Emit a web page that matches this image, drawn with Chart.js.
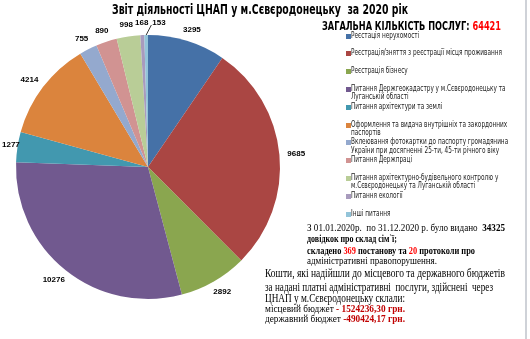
<!DOCTYPE html>
<html>
<head>
<meta charset="utf-8">
<script src="https://cdn.jsdelivr.net/npm/chart.js@4.4.0/dist/chart.umd.min.js"></script>
<style>
    body { margin: 0; background: #fff; }
    #wrap { position: relative; width: 530px; height: 339px; overflow: hidden; background: #fff; }
    #myChart { position: absolute; left: 0; top: 0; }
    .t { position: absolute; white-space: nowrap; transform-origin: 0 50%; color: #000; }
    .sans { font-family: "Liberation Sans Narrow", "DejaVu Sans Condensed", "Liberation Sans", Arial, sans-serif; }
    .serif { font-family: "Liberation Serif", "Times New Roman", serif; }
    .red { color: #ff0000; }
    .dred { color: #c00000; font-weight: bold; }
    #legend { position: absolute; left: 346px; top: 0; }
    .li { position: absolute; left: 0; }
    .sq { position: absolute; left: 0; width: 5px; height: 5px; }
    .lt { position: absolute; left: 5px; top: 0; font-family: "Liberation Sans Narrow", "DejaVu Sans Condensed", "Liberation Sans", Arial, sans-serif; font-size: 8px; line-height: 8.6px; color: #222; transform-origin: 0 0; white-space: normal; }
    #edge { position: absolute; left: 525px; top: 0; width: 2px; height: 339px; background: #cfd2d8; }
</style>
</head>
<body>
<div id="wrap">
    <canvas id="myChart" width="530" height="339"></canvas>

    <div class="t sans" data-w="296" style="left:112px; top:1px; font-size:14px; line-height:16px; font-weight:bold;">Звіт діяльності ЦНАП у м.Сєвєродонецьку&nbsp; за 2020 рік</div>
    <div class="t sans" data-w="179" style="left:322px; top:19px; font-size:12px; line-height:14px; font-weight:bold;">ЗАГАЛЬНА КІЛЬКІСТЬ ПОСЛУГ: <span class="red">64421</span></div>

    <div id="legend"></div>

    <div class="t serif" data-w="198" style="left:307px; top:222px; font-size:10.5px; line-height:12px;">З 01.01.2020р.&nbsp; по 31.12.2020 р. було видано&nbsp; <b>34325</b></div>
    <div class="t serif" data-w="90" style="left:307px; top:233px; font-size:10.5px; line-height:12px; font-weight:bold;">довідкок про склад сім`ї;</div>
    <div class="t serif" data-w="168" style="left:307px; top:245px; font-size:10.5px; line-height:12px; font-weight:bold;">складено <span class="red">369</span> постанову та <span class="red">20</span> протоколи про</div>
    <div class="t serif" data-w="130" style="left:307px; top:255px; font-size:10.5px; line-height:12px;">адміністративні правопорушення.</div>

    <div class="t serif" data-w="240" style="left:265px; top:266px; font-size:12.5px; line-height:14px;">Кошти, які надійшли до місцевого та державного бюджетів</div>
    <div class="t serif" data-w="228" style="left:265px; top:280px; font-size:12.5px; line-height:14px;">за надані платні адміністративні&nbsp; послуги, здійснені&nbsp; через</div>
    <div class="t serif" data-w="140" style="left:265px; top:291px; font-size:12.5px; line-height:14px;">ЦНАП у м.Сєвєродонецьку склали:</div>
    <div class="t serif" data-w="140" style="left:265px; top:303px; font-size:10.5px; line-height:12px;">місцевий бюджет <span class="dred">- 1524236,30 грн.</span></div>
    <div class="t serif" data-w="140" style="left:265px; top:313px; font-size:10.5px; line-height:12px;">державний бюджет <span class="dred">-490424,17 грн.</span></div>

    <div id="edge"></div>
</div>

<script>
// Дані з діаграми
const categories = [
    'Реєстація нерухомості',
    'Реєстрація/зняття з реєстрації місця проживання',
    'Реєстрація бізнесу',
    'Питання Держгеокадастру у м.Сєвєродонецьку та Луганській області',
    'Питання архітектури та землі',
    'Оформлення та видача внутрішніх та закордонних паспортів',
    'Вклеювання фотокартки до паспорту громадянина України при досягненні 25-ти, 45-ти річного віку',
    'Питання Держпраці',
    'Питання архітектурно-будівельного контролю у м.Сєвєродонецьку та Луганській області',
    'Питання екології',
    'Інші питання'
];
const serviceCounts = [3295, 9685, 2892, 10276, 1277, 4214, 755, 890, 998, 168, 153];
const sliceColors = ['#4571a7', '#aa4643', '#8aa64f', '#71598f', '#4298af', '#db843d',
                     '#94a9ce', '#d19392', '#b9cd97', '#a89bbd', '#93c4d9'];

// Підписи значень за межами сектора
const outsideLabels = {
    id: 'outsideLabels',
    afterDatasetsDraw(chart) {
        const ctx = chart.ctx;
        const arcs = chart.getDatasetMeta(0).data;
        ctx.save();
        ctx.font = 'bold 8px "Liberation Sans", Arial, sans-serif';
        ctx.fillStyle = '#000';
        ctx.textAlign = 'center';
        ctx.textBaseline = 'middle';
        const h = 8;
        let prev = null;
        arcs.forEach((arc, i) => {
            const txt = String(serviceCounts[i]);
            const w = ctx.measureText(txt).width;
            const mid = (arc.startAngle + arc.endAngle) / 2;
            const r = arc.outerRadius + 8;
            const cx = Math.cos(mid), cy = Math.sin(mid);
            let x = arc.x + cx * r + cx * w / 2;
            let y = arc.y + cy * r + cy * h / 2;
            if (x - w / 2 < 2) x = 2 + w / 2;
            let moved = false;
            if (prev && Math.abs(prev.y - y) < h && x - w / 2 < prev.x + prev.w / 2 + 2) {
                x = prev.x + prev.w / 2 + 4 + w / 2;
                moved = true;
            }
            if (moved) {
                // лінія-виноска
                ctx.strokeStyle = '#000';
                ctx.lineWidth = 0.8;
                ctx.beginPath();
                ctx.moveTo(arc.x + cx * arc.outerRadius, arc.y + cy * arc.outerRadius);
                ctx.lineTo(x - w / 2 - 1, y + 2);
                ctx.stroke();
            }
            ctx.fillText(txt, x, y);
            prev = { x: x, y: y, w: w };
        });
        ctx.restore();
    }
};

const ctx = document.getElementById('myChart').getContext('2d');
const myChart = new Chart(ctx, {
    type: 'pie',
    data: {
        labels: categories,
        datasets: [{
            data: serviceCounts,
            backgroundColor: sliceColors,
            borderWidth: 0
        }]
    },
    options: {
        responsive: false,
        animation: false,
        layout: { padding: { left: 16, top: 35, right: 250, bottom: 40 } },
        plugins: {
            legend: { display: false },
            tooltip: { enabled: false }
        }
    },
    plugins: [outsideLabels]
});

// Легенда праворуч
const legend = document.getElementById('legend');
const probe = document.createElement('span');
probe.className = 'lt';
probe.style.whiteSpace = 'nowrap';
probe.textContent = categories[1];
legend.appendChild(probe);
const legScale = 151 / probe.getBoundingClientRect().width;
legend.removeChild(probe);

categories.forEach((name, i) => {
    const item = document.createElement('div');
    item.className = 'li';
    item.style.top = (31.5 + i * 17.8) + 'px';
    const sq = document.createElement('div');
    sq.className = 'sq';
    sq.style.top = '2px';
    sq.style.background = sliceColors[i];
    const lt = document.createElement('div');
    lt.className = 'lt';
    lt.style.width = (162 / legScale) + 'px';
    lt.style.transform = 'scaleX(' + legScale + ')';
    lt.textContent = name;
    item.appendChild(sq);
    item.appendChild(lt);
    legend.appendChild(item);
});

// Підгонка ширини рядків тексту
document.querySelectorAll('[data-w]').forEach(el => {
    const target = parseFloat(el.getAttribute('data-w'));
    const w = el.getBoundingClientRect().width;
    if (w > 0) el.style.transform = 'scaleX(' + (target / w) + ')';
});
</script>
</body>
</html>
